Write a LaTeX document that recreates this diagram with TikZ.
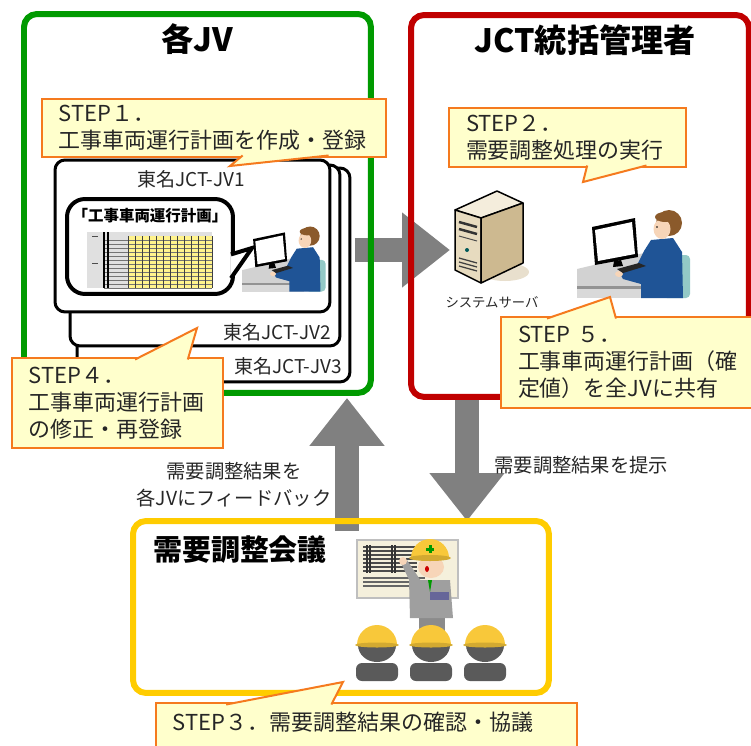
\documentclass[tikz,border=0pt]{standalone}
\usepackage{fontspec}
\setmainfont{Noto Sans CJK JP}
\usetikzlibrary{arrows.meta, positioning, calc, backgrounds}
\definecolor{jvgreen}{HTML}{009A00}
\definecolor{jctred}{HTML}{C00000}
\definecolor{meetgold}{HTML}{FFCC00}
\definecolor{noteline}{HTML}{F57A1E}
\definecolor{notefill}{HTML}{FFFFCC}
\definecolor{flowgray}{HTML}{808080}
\definecolor{inktext}{HTML}{262626}
\definecolor{suitblue}{HTML}{1F5496}
\definecolor{hairbrown}{HTML}{8B5A2B}
\definecolor{skin}{HTML}{F7D5B8}
\definecolor{chairteal}{HTML}{93C9C6}
\definecolor{deskgray}{HTML}{D2D2D2}
\definecolor{helmetyellow}{HTML}{F8C83A}
\definecolor{crowdgray}{HTML}{5A5A5A}
\definecolor{boardcream}{HTML}{F5F0DC}
\definecolor{sheetyellow}{HTML}{FFF38C}
\definecolor{servfront}{HTML}{E7DBBF}
\definecolor{servtop}{HTML}{F4EDDC}
\definecolor{servside}{HTML}{CDB990}

% person working at a desk (drawn in pixel units, y downwards)
\tikzset{
  deskworker/.pic={
    \fill[chairteal, rounded corners=0.08cm] (86,47) rectangle (113,90);
    \fill[deskgray] (0,61) -- (71,44) -- (84,44) -- (84,80) -- (0,80) -- cycle;
    \fill[deskgray!70!black] (0,78) rectangle (84,81);
    \fill[deskgray!85!white] (0,81) rectangle (84,90);
    \fill[suitblue] (74,32) -- (96,30) -- (105,44) -- (106,90) -- (64,90) -- (64,76) -- (46,71) -- (42,64) -- (58,61) -- (67,43) -- cycle;
    \fill[skin] (42,66) ellipse (4 and 3);
    \fill[hairbrown] (92,15) circle (13);
    \fill[skin] (85,21) ellipse (8.5 and 10);
    \fill[hairbrown] (88,9) ellipse (10 and 5);
    \fill[black] (80,19) circle (0.9);
    \fill[black] (15,19) -- (58,10) -- (61,49) -- (18,57) -- cycle;
    \fill[white] (18,22) -- (55,14) -- (58,46) -- (21,53) -- cycle;
    \fill[black] (37,53) -- (44,52) -- (46,58) -- (36,59) -- cycle;
    \fill[black!85] (40,61) -- (62,55) -- (69,58) -- (46,65) -- cycle;
  }
}

\begin{document}
\begin{tikzpicture}[x=0.02cm, y=-0.02cm,
  groupbox/.style={rectangle, rounded corners=0.26cm, line width=0.12cm, anchor=north west, outer sep=0pt},
  grouptitle/.style={font=\fontsize{18.3}{22}\selectfont\bfseries, text=black, inner sep=0pt},
  card/.style={rectangle, draw=black, fill=white, line width=0.06cm, rounded corners=0.2cm, anchor=north west, outer sep=0pt},
  cardlabel/.style={font=\fontsize{10.8}{13}\selectfont, text=inktext, inner sep=0pt},
  bubble/.style={rectangle, draw=black, fill=white, line width=0.08cm, rounded corners=0.36cm, anchor=north west, outer sep=0pt},
  steptext/.style={rectangle, draw=noteline, fill=notefill, line width=0.04cm, anchor=north west, align=left, inner xsep=0.34cm, inner ysep=0pt, outer sep=0pt, font=\fontsize{12.5}{15.3}\selectfont, text=inktext},
  pointer/.style={fill=notefill, draw=noteline, line width=0.04cm},
  flow/.style={draw=flowgray, line width=0.48cm, -{Triangle[length=0.96cm, width=1.44cm]}},
  flowlabel/.style={font=\fontsize{11}{15.3}\selectfont, text=inktext, inner sep=0pt}
]
  \useasboundingbox (0,0) rectangle (751,745);
  \clip (0,0) rectangle (751,745);

  % group frames
  \node[groupbox, draw=jvgreen, minimum width=6.94cm, minimum height=7.58cm] (jv) at (24,14) {};
  \node[groupbox, draw=jctred, minimum width=6.76cm, minimum height=7.64cm] (jct) at (411,15) {};
  \node[groupbox, draw=meetgold, minimum width=8.32cm, minimum height=3.44cm] (meeting) at (133,521) {};
  \node[grouptitle] (jvtitle) at (197,39) {各JV};
  \node[grouptitle] (jcttitle) at (585,40) {JCT統括管理者};
  \node[grouptitle, font=\fontsize{16.5}{19}\selectfont\bfseries] (meettitle) at (240,550) {需要調整会議};

  % stacked JV cards
  \node[card, minimum width=5.46cm, minimum height=4.28cm] (jv3) at (77,168) {};
  \node[card, minimum width=5.40cm, minimum height=3.62cm] (jv2) at (70,165) {};
  \node[card, minimum width=5.50cm, minimum height=3.04cm] (jv1) at (55,160) {};
  \node[cardlabel] (jv1name) at (191,179) {東名JCT-JV1};
  \node[cardlabel] (jv2name) at (277,332) {東名JCT-JV2};
  \node[cardlabel] (jv3name) at (288,366) {東名JCT-JV3};

  % plan sheet bubble
  \node[bubble, minimum width=3.32cm, minimum height=1.9cm] (plan) at (67,199) {};
  \coordinate (planptr) at (252,248);
  \path[fill=white, draw=black, line width=0.08cm] ($(plan.north east)!7/12!(plan.south east)+(-2,0)$) -- (planptr) -- ($(plan.north east)!10/12!(plan.south east)+(-2,0)$);
  \node[font=\fontsize{8.8}{10}\selectfont\bfseries, inner sep=0pt] (plantitle) at (150,216) {「工事車両運行計画」};
  \fill[black!12] (87,232) rectangle (212,288);
  \fill[sheetyellow] (128,236) rectangle (212,288);
  \foreach \y in {240,244,...,288} \draw[black!55, line width=0.15pt] (104,\y) -- (212,\y);
  \foreach \x in {128,135,...,212} \draw[black!75, line width=0.3pt] (\x,236) -- (\x,288);
  \draw[black, line width=0.6pt] (104,232) -- (104,288) (108,232) -- (108,288);
  \draw[black!70, line width=0.5pt] (92,236) -- (98,236) (92,263) -- (98,263);

  % people at their desks
  \pic[scale=0.74] at (242,225) {deskworker};
  \pic at (577,208) {deskworker};

  % server tower
  \fill[servside, opacity=0.45] (505,272) ellipse (24 and 9);
  \filldraw[fill=servtop, draw=black, line width=0.03cm, line join=round] (455,210) -- (497,191) -- (523,203) -- (481,218) -- cycle;
  \filldraw[fill=servfront, draw=black, line width=0.03cm, line join=round] (455,210) -- (481,218) -- (481,283) -- (455,270) -- cycle;
  \filldraw[fill=servside, draw=black, line width=0.03cm, line join=round] (481,218) -- (523,203) -- (523,263) -- (481,283) -- cycle;
  \draw[black!80, line width=0.05cm] (459,222) -- (477,227) (459,229) -- (477,234);
  \draw[black!70, line width=0.02cm] (459,236) -- (477,241);
  \fill[teal!70!black] (467,250) circle (2);
  \foreach \v in {258,262,266} \draw[black!75, line width=0.025cm] (459,\v) -- (477,\v+5);
  \node[font=\fontsize{7.6}{9}\selectfont, text=inktext, inner sep=0pt] (srvname) at (492,302) {システムサーバ};

  % meeting scene
  \filldraw[fill=boardcream, draw=black!25, line width=0.03cm] (357,540) rectangle (458,598);
  \foreach \y in {547,551,...,571} \draw[black!70, line width=0.04cm] (363,\y) -- (417,\y);
  \draw[black!80, line width=0.05cm] (367,545) -- (367,573) (370,545) -- (370,573) (392,545) -- (392,573) (395,545) -- (395,573);
  \foreach \y in {578,582,586} \draw[black!60, line width=0.03cm] (363,\y) -- (425,\y);
  \fill[crowdgray!70] (419,612) rectangle (445,632);
  \fill[gray!75] (409,580) -- (450,580) -- (453,618) -- (410,618) -- cycle;
  \fill[gray!75] (413,588) -- (401,563) -- (407,560) -- (421,581) -- cycle;
  \fill[skin] (403,561) circle (4);
  \fill[green!60!black] (428,580) -- (432,580) -- (430,592) -- cycle;
  \fill[skin] (431,567) ellipse (13 and 11);
  \fill[red!80!black] (427,569) ellipse (2 and 3);
  \fill[helmetyellow] (411,558) arc[start angle=180, end angle=360, radius=19] -- cycle;
  \fill[helmetyellow!85!black] (430,558) ellipse (21 and 3);
  \draw[green!60!black, line width=0.06cm] (430,545) -- (430,553) (426,549) -- (434,549);
  \fill[blue!20!gray] (430,592) rectangle (449,600);
  \foreach \cx in {377,431,485} {
    \fill[crowdgray] (\cx-19,645) arc[start angle=180, end angle=0, x radius=19, y radius=17] -- cycle;
    \fill[crowdgray, rounded corners=0.12cm] (\cx-21,663) rectangle (\cx+21,681);
    \fill[helmetyellow] (\cx-20,645) arc[start angle=180, end angle=360, radius=20] -- cycle;
    \fill[helmetyellow!85!black] (\cx,645) ellipse (22 and 2.5);
  }

  % flows between the groups
  \coordinate (srvin) at (450,250);
  \coordinate (upx) at (347,0);
  \coordinate (downx) at (467,0);
  \begin{scope}[on background layer]
    \draw[flow, shorten <=-0.32cm] (jv.east |- srvin) -- (srvin);
    \draw[flow, shorten <=-0.2cm, shorten >=0.1cm] (meeting.north -| upx) -- (jv.south -| upx);
    \draw[flow] (jct.south -| downx) -- (meeting.north -| downx);
  \end{scope}
  \node[flowlabel, align=center] (fbnote) at (234,485) {需要調整結果を\\各JVにフィードバック};
  \node[flowlabel, anchor=west] (shownote) at (494,465) {需要調整結果を提示};

  % step callouts
  \node[steptext, minimum width=6.88cm, minimum height=1.16cm, text width=6.2cm] (step1) at (42,99) {STEP１．\\工事車両運行計画を作成・登録};
  \coordinate (tip1) at (230,166);
  \path[pointer] ($(step1.south west)!7/12!(step1.south east)+(0,-1.5)$) -- (tip1) -- ($(step1.south west)!10/12!(step1.south east)+(0,-1.5)$);

  \node[steptext, minimum width=4.74cm, minimum height=1.18cm, text width=4.06cm] (step2) at (449,108) {STEP２．\\需要調整処理の実行};
  \coordinate (tip2) at (583,182);
  \path[pointer] ($(step2.south west)!7/12!(step2.south east)+(0,-1.5)$) -- (tip2) -- ($(step2.south west)!10/12!(step2.south east)+(0,-1.5)$);

  \node[steptext, minimum width=8.42cm, text width=7.74cm, inner ysep=0.2cm, text height=0.34cm, text depth=0.5cm] (step3) at (156,703) {STEP３．需要調整結果の確認・協議};
  \coordinate (tip3) at (343,682);
  \path[pointer] ($(step3.north west)!2/12!(step3.north east)+(0,1.5)$) -- (tip3) -- ($(step3.north west)!5/12!(step3.north east)+(0,1.5)$);

  \node[steptext, minimum width=4.22cm, minimum height=1.8cm, text width=3.54cm] (step4) at (12,358) {STEP４．\\工事車両運行計画\\の修正・再登録};
  \coordinate (tip4) at (197,328);
  \path[pointer] ($(step4.north west)!7/12!(step4.north east)+(0,1.5)$) -- (tip4) -- ($(step4.north west)!10/12!(step4.north east)+(0,1.5)$);

  \node[steptext, minimum width=5.52cm, minimum height=1.82cm, text width=4.84cm] (step5) at (501,317) {STEP ５．\\工事車両運行計画（確\\定値）を全JVに共有};
  \coordinate (tip5) at (610,297);
  \path[pointer] ($(step5.north west)!2/12!(step5.north east)+(0,1.5)$) -- (tip5) -- ($(step5.north west)!5/12!(step5.north east)+(0,1.5)$);
\end{tikzpicture}
\end{document}
